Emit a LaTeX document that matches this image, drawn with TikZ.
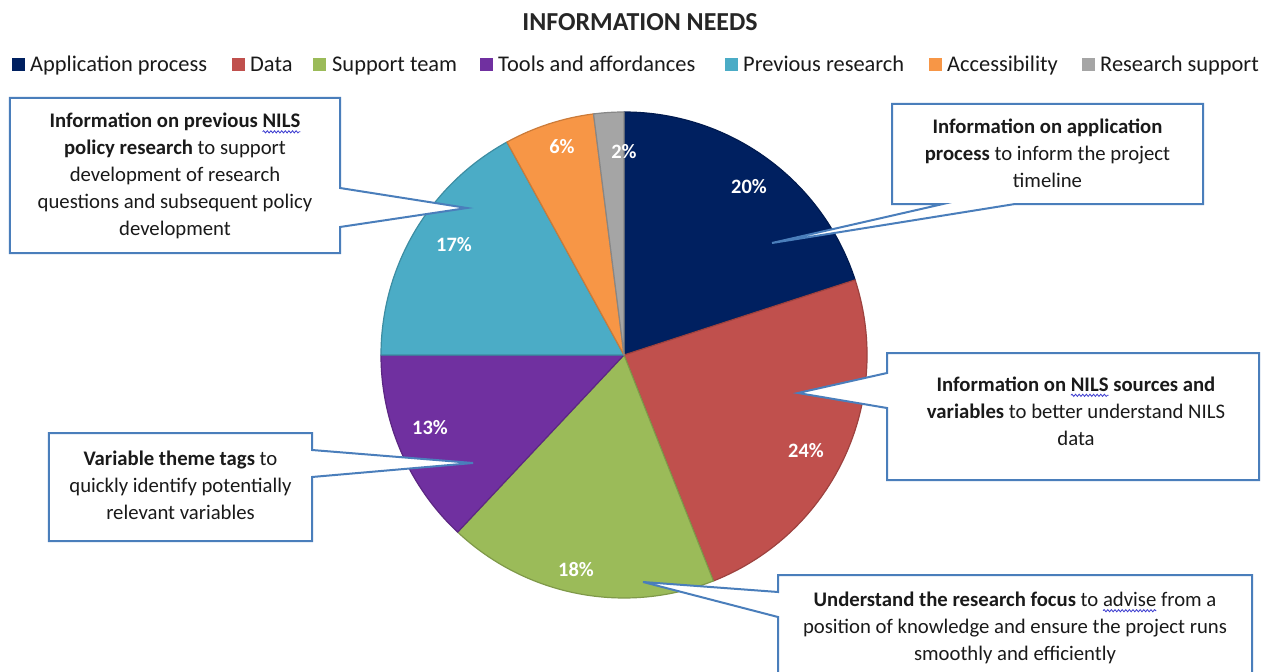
\documentclass[tikz,border=0pt]{standalone}
\usepackage{fontspec}
\setmainfont{Carlito}
\usetikzlibrary{calc,decorations.pathmorphing}
\definecolor{appc}{HTML}{002060}
\definecolor{datac}{HTML}{C0504D}
\definecolor{suppc}{HTML}{9BBB59}
\definecolor{toolc}{HTML}{7030A0}
\definecolor{prevc}{HTML}{4BACC6}
\definecolor{accc}{HTML}{F79646}
\definecolor{rsc}{HTML}{A5A5A5}
\definecolor{callc}{HTML}{4A7EBB}
\definecolor{txt}{HTML}{1A1A1A}
\definecolor{titc}{HTML}{262626}
\definecolor{squig}{HTML}{3C3CD0}
\pgfdeclarelayer{pielayer}
\pgfdeclarelayer{calloutlayer}
\pgfsetlayers{pielayer,calloutlayer,main}
\newsavebox\sqbox
\newdimen\sqwd
\newcommand\sqwave[1]{\sbox\sqbox{#1}\sqwd=\wd\sqbox\leavevmode\rlap{\usebox\sqbox}%
  \tikz[baseline=0pt,x=1bp,y=1bp]{\useasboundingbox (0,0) rectangle (\sqwd,0);
  \draw[squig, line width=0.8bp, decorate, decoration={snake, amplitude=1.1bp, segment length=3.6bp}] (0,-4bp) -- (\sqwd,-4bp);}}
\tikzset{
  calltext/.style={font=\fontsize{20.8}{27}\selectfont, align=center, text=txt, inner sep=0pt},
  boxarea/.style={draw=none, inner sep=0pt, outer sep=0pt},
  calloutline/.style={draw=callc, line width=2bp, fill=white, line join=miter},
  pct/.style={font=\fontsize{20.5}{21}\selectfont\bfseries, text=white, inner sep=0pt},
  legsq/.style={fill=#1, minimum size=13bp, inner sep=0pt, outer sep=0pt},
  legtxt/.style={font=\fontsize{22.5}{23}\selectfont, anchor=base west, inner sep=0pt, text=txt},
  slice/.style={fill=#1, draw=#1!82!black, line width=1.2bp, line join=round}
}
\begin{document}
\begin{tikzpicture}[x=1bp,y=-1bp]
\useasboundingbox (0,0) rectangle (1261,672);
\begin{pgfonlayer}{pielayer}
\fill[white] (0,0) rectangle (1261,672);
\begin{scope}[shift={(624,355)}]
\path[slice=appc]  (0,0) -- (-90:243)  arc[start angle=-90,  end angle=-18,   radius=243] -- cycle;
\path[slice=datac] (0,0) -- (-18:243)  arc[start angle=-18,  end angle=68.4,  radius=243] -- cycle;
\path[slice=suppc] (0,0) -- (68.4:243) arc[start angle=68.4, end angle=133.2, radius=243] -- cycle;
\path[slice=toolc] (0,0) -- (133.2:243) arc[start angle=133.2, end angle=180, radius=243] -- cycle;
\path[slice=prevc] (0,0) -- (180:243)  arc[start angle=180,  end angle=241.2, radius=243] -- cycle;
\path[slice=accc]  (0,0) -- (241.2:243) arc[start angle=241.2, end angle=262.8, radius=243] -- cycle;
\path[slice=rsc]   (0,0) -- (262.8:243) arc[start angle=262.8, end angle=270, radius=243] -- cycle;
\end{scope}
\end{pgfonlayer}

% title
\node[font=\fontsize{26}{28}\selectfont\bfseries, text=titc] (title) at (640,22) {INFORMATION NEEDS};

% legend
\node[legsq=appc]  (ls1) at (18,65) {};
\node[legtxt] (lt1) at (30,72) {Application process};
\node[legsq=datac] (ls2) at (238,65) {};
\node[legtxt] (lt2) at (250,72) {Data};
\node[legsq=suppc] (ls3) at (319,65) {};
\node[legtxt] (lt3) at (332,72) {Support team};
\node[legsq=toolc] (ls4) at (486,65) {};
\node[legtxt] (lt4) at (498,72) {Tools and affordances};
\node[legsq=prevc] (ls5) at (731,65) {};
\node[legtxt] (lt5) at (743,72) {Previous research};
\node[legsq=accc]  (ls6) at (935,65) {};
\node[legtxt] (lt6) at (947,72) {Accessibility};
\node[legsq=rsc]   (ls7) at (1088,65) {};
\node[legtxt] (lt7) at (1100,72) {Research support};

% percentages
\node[pct] (p20) at (749,187) {20\%};
\node[pct] (p24) at (806,451) {24\%};
\node[pct] (p18) at (576,570) {18\%};
\node[pct] (p13) at (430,428) {13\%};
\node[pct] (p17) at (454,245) {17\%};
\node[pct] (p6)  at (562,147) {6\%};
\node[pct] (p2)  at (624,152) {2\%};

% callout areas
\node[boxarea, minimum width=330bp, minimum height=155bp] (b1) at (175,175.5) {};
\node[boxarea, minimum width=311bp, minimum height=100bp] (b2) at (1047.5,154) {};
\node[boxarea, minimum width=372bp, minimum height=127bp] (b3) at (1073,416.5) {};
\node[boxarea, minimum width=263bp, minimum height=108bp] (b4) at (180.5,487) {};
\node[boxarea, minimum width=474bp, minimum height=125bp] (b5) at (1015,637.5) {};

\coordinate (tip1) at (467,208);
\coordinate (tip2) at (772,243);
\coordinate (tip3) at (798,393);
\coordinate (tip4) at (473,463);
\coordinate (tip5) at (643,582);

% callout texts
\node[calltext] (t1) at (175,176) {\textbf{Information on previous \sqwave{NILS}}\\\textbf{policy research} to support\\development of research\\questions and subsequent policy\\development};
\node[calltext] (t2) at (1047.5,153) {\textbf{Information on application}\\\textbf{process} to inform the project\\timeline};
\node[calltext] (t3) at (1076,411) {\textbf{Information on \sqwave{NILS} sources and}\\\textbf{variables} to better understand NILS\\data};
\node[calltext] (t4) at (180.5,485) {\textbf{Variable theme tags} to\\quickly identify potentially\\relevant variables};
\node[calltext] (t5) at (1015,628) {\textbf{Understand the research focus} to \sqwave{advise} from a\\position of knowledge and ensure the project runs\\smoothly and efficiently};

\begin{pgfonlayer}{calloutlayer}
\path[calloutline] (b1.north west) -- (b1.north east) -- ($(b1.north east)+(0,90)$) -- (tip1)
  -- ($(b1.north east)+(0,129)$) -- (b1.south east) -- (b1.south west) -- cycle;
\path[calloutline] (b2.north west) -- (b2.north east) -- (b2.south east) -- ($(b2.south west)+(123,0)$)
  -- (tip2) -- ($(b2.south west)+(51,0)$) -- (b2.south west) -- cycle;
\path[calloutline] (b3.north west) -- (b3.north east) -- (b3.south east) -- (b3.south west)
  -- ($(b3.north west)+(0,55)$) -- (tip3) -- ($(b3.north west)+(0,20)$) -- cycle;
\path[calloutline] (b4.north west) -- (b4.north east) -- ($(b4.north east)+(0,17)$) -- (tip4)
  -- ($(b4.north east)+(0,44)$) -- (b4.south east) -- (b4.south west) -- cycle;
\path[calloutline] (b5.north west) -- (b5.north east) -- (b5.south east) -- (b5.south west)
  -- ($(b5.north west)+(0,42)$) -- (tip5) -- ($(b5.north west)+(0,17)$) -- cycle;
\end{pgfonlayer}
\end{tikzpicture}
\end{document}
